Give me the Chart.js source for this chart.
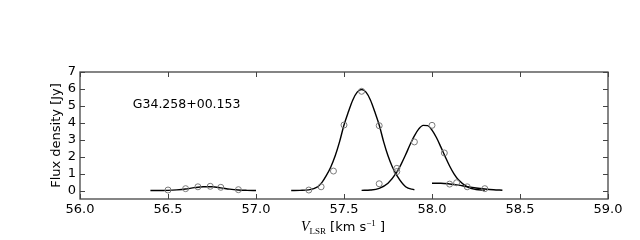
<!DOCTYPE html>
<html>
<head>
<meta charset="utf-8">
<script src="https://cdn.jsdelivr.net/npm/chart.js@4/dist/chart.umd.min.js"></script>
<style>
html,body{margin:0;padding:0;background:#fff;}
#wrap{width:640px;height:240px;}
</style>
</head>
<body>
<div id="wrap"><canvas id="c" width="640" height="240"></canvas></div>
<script>
// ---- data ----
const xTicks = [56.0, 56.5, 57.0, 57.5, 58.0, 58.5, 59.0];
const yTicks = [0, 1, 2, 3, 4, 5, 6, 7];
const sourceName = "G34.258+00.153";

// observed channels (open circles)
const obs1V = [56.50, 56.60, 56.67, 56.74, 56.80, 56.90];
const obs1F = [0.03, 0.11, 0.22, 0.25, 0.19, 0.05];
const obs2V = [57.30, 57.37, 57.44, 57.50, 57.60, 57.70, 57.80];
const obs2F = [0.03, 0.22, 1.15, 3.87, 5.86, 3.83, 1.31];
const obs3V = [57.70, 57.80, 57.90, 58.00, 58.07];
const obs3F = [0.40, 1.12, 2.87, 3.85, 2.22];
const obs4V = [58.10, 58.14, 58.20, 58.30];
const obs4F = [0.38, 0.46, 0.22, 0.11];

// fitted profiles (black lines)
const fit1V = [56.40, 56.45, 56.50, 56.55, 56.60, 56.65, 56.70, 56.75, 56.80, 56.85, 56.90, 56.95, 57.00];
const fit1F = [0.00, 0.00, 0.01, 0.04, 0.09, 0.17, 0.22, 0.22, 0.16, 0.08, 0.03, 0.01, 0.00];
const fit2V = [57.20, 57.25, 57.30, 57.35, 57.375, 57.40, 57.425, 57.45, 57.475, 57.50, 57.525, 57.55, 57.575, 57.60,
               57.625, 57.65, 57.675, 57.70, 57.725, 57.75, 57.775, 57.80, 57.85, 57.90];
const fit2F = [0.00, 0.01, 0.04, 0.22, 0.48, 0.89, 1.39, 2.05, 2.89, 3.87, 4.65, 5.35, 5.81, 5.97,
               5.81, 5.35, 4.65, 3.87, 2.89, 2.05, 1.39, 0.89, 0.22, 0.04];
const fit3V = [57.60, 57.65, 57.70, 57.75, 57.80, 57.825, 57.85, 57.875, 57.90, 57.925, 57.95, 57.975, 58.00,
               58.025, 58.05, 58.075, 58.10, 58.125, 58.15, 58.20, 58.25, 58.30];
const fit3F = [0.01, 0.03, 0.13, 0.43, 1.08, 1.56, 2.11, 2.70, 3.23, 3.64, 3.85, 3.83, 3.57,
               3.13, 2.58, 2.00, 1.45, 0.99, 0.64, 0.22, 0.06, 0.01];
const fit4V = [58.00, 58.05, 58.10, 58.15, 58.20, 58.25, 58.30, 58.35, 58.40];
const fit4F = [0.43, 0.43, 0.39, 0.32, 0.23, 0.15, 0.09, 0.045, 0.02];

const annX = 56.30, annY = 5.05;

// ---- build ----
const pts = (vs, fs) => vs.map((v, i) => ({x: v, y: fs[i]}));
const SANS = '"DejaVu Sans", sans-serif';

function lineDS(vs, fs) {
  return {type: 'line', data: pts(vs, fs), borderColor: '#000', borderWidth: 1.4,
          pointRadius: 0, fill: false, cubicInterpolationMode: 'monotone', order: 2};
}
function obsDS(vs, fs) {
  return {type: 'scatter', data: pts(vs, fs), showLine: false, pointStyle: 'circle',
          pointRadius: 3, borderWidth: 1, borderColor: '#7a7a7a', backgroundColor: 'rgba(0,0,0,0)', order: 1};
}

const framePlugin = {
  id: 'frame',
  afterDraw(chart) {
    const {ctx, chartArea: a, scales: {x, y}} = chart;
    ctx.save();
    ctx.strokeStyle = '#444';
    ctx.lineWidth = 1.3;
    ctx.strokeRect(a.left, a.top, a.right - a.left, a.bottom - a.top);
    const tl = 5;
    ctx.beginPath();
    xTicks.forEach(v => {
      const px = Math.round(x.getPixelForValue(v)) + 0.5;
      ctx.moveTo(px, a.bottom); ctx.lineTo(px, a.bottom - tl);
      ctx.moveTo(px, a.top); ctx.lineTo(px, a.top + tl);
    });
    yTicks.forEach(v => {
      const py = Math.round(y.getPixelForValue(v)) + 0.5;
      ctx.moveTo(a.left, py); ctx.lineTo(a.left + tl, py);
      ctx.moveTo(a.right, py); ctx.lineTo(a.right - tl, py);
    });
    ctx.lineWidth = 1;
    ctx.stroke();

    // annotation
    ctx.fillStyle = '#000';
    ctx.font = '12.5px ' + SANS;
    ctx.textAlign = 'left';
    ctx.textBaseline = 'middle';
    ctx.fillText(sourceName, x.getPixelForValue(annX), y.getPixelForValue(annY));

    // y title
    ctx.save();
    ctx.translate(57, (a.top + a.bottom) / 2);
    ctx.rotate(-Math.PI / 2);
    ctx.font = '13px ' + SANS;
    ctx.textAlign = 'center';
    ctx.textBaseline = 'middle';
    ctx.fillText('Flux density [Jy]', 0, 0);
    ctx.restore();

    // x title:  V_LSR [km s^-1 ]
    const parts = [
      {t: 'V', f: 'italic 14px "Liberation Serif", serif', dy: 0},
      {t: 'LSR', f: '9px "Liberation Serif", serif', dy: 2.5},
      {t: ' [km s', f: '13px ' + SANS, dy: 0},
      {t: '\u22121', f: '9px "Liberation Serif", serif', dy: -5},
      {t: ' ]', f: '13px ' + SANS, dy: 0}
    ];
    let total = 0;
    parts.forEach(p => { ctx.font = p.f; p.w = ctx.measureText(p.t).width; total += p.w; });
    let cx = (a.left + a.right) / 2 - 1 - total / 2;
    const base = 231;
    ctx.textAlign = 'left';
    ctx.textBaseline = 'alphabetic';
    parts.forEach(p => { ctx.font = p.f; ctx.fillText(p.t, cx, base + p.dy); cx += p.w; });
    ctx.restore();
  }
};

new Chart(document.getElementById('c'), {
  data: {
    datasets: [
      obsDS(obs1V, obs1F), obsDS(obs2V, obs2F), obsDS(obs3V, obs3F), obsDS(obs4V, obs4F),
      lineDS(fit1V, fit1F), lineDS(fit2V, fit2F), lineDS(fit3V, fit3F), lineDS(fit4V, fit4F)
    ]
  },
  options: {
    responsive: false,
    animation: false,
    devicePixelRatio: 1,
    layout: {padding: {left: 0, right: 32, top: 72, bottom: 0}},
    plugins: {legend: {display: false}, tooltip: {enabled: false}, title: {display: false}},
    scales: {
      x: {
        type: 'linear', min: 56.0, max: 59.0,
        afterBuildTicks: s => { s.ticks = xTicks.map(v => ({value: v})); },
        afterFit: s => { s.height = 41; },
        grid: {display: false, drawTicks: false},
        border: {display: false},
        ticks: {color: '#000', font: {family: 'DejaVu Sans', size: 13}, padding: 3,
                maxRotation: 0, autoSkip: false, callback: v => v.toFixed(1)}
      },
      y: {
        type: 'linear', min: -0.5, max: 7,
        afterBuildTicks: s => { s.ticks = yTicks.map(v => ({value: v})); },
        afterFit: s => { s.width = 80; },
        grid: {display: false, drawTicks: false},
        border: {display: false},
        ticks: {color: '#000', font: {family: 'DejaVu Sans', size: 13}, padding: 4,
                autoSkip: false, callback: v => String(v)}
      }
    }
  },
  plugins: [framePlugin]
});
</script>
</body>
</html>
